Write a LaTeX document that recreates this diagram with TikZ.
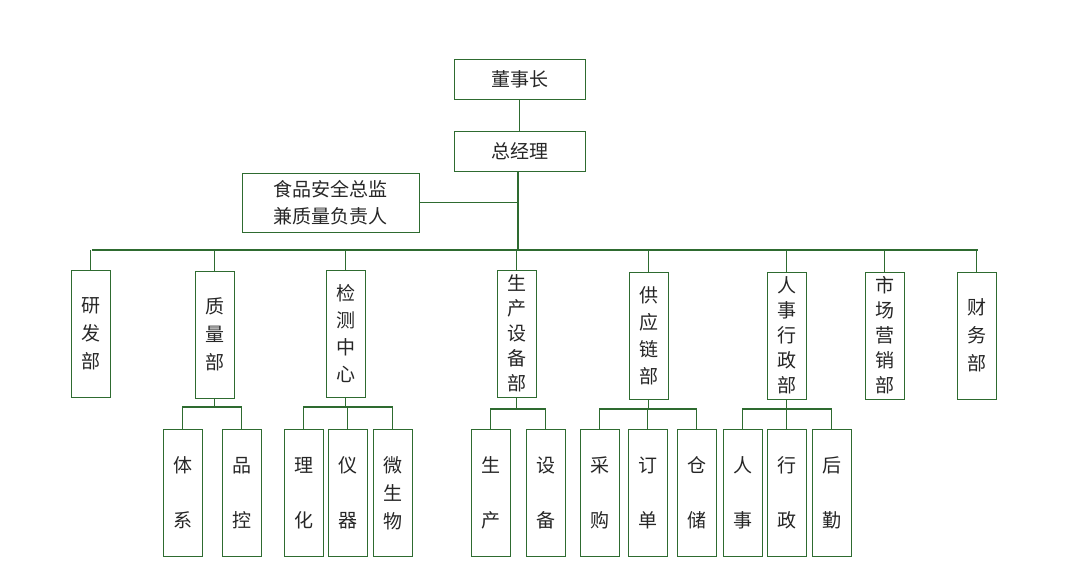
\documentclass[tikz,border=0pt]{standalone}
\usepackage{fontspec}
\newfontfamily\cjk{Noto Sans CJK SC}
\definecolor{gr}{HTML}{2E6B30}
\begin{document}
\begin{tikzpicture}[x=1pt,y=-1pt,
  conn/.style={draw=gr,line width=1.6pt},
  bx/.style={draw=gr,line width=0.9pt,inner sep=0pt,align=center,font=\cjk\fontsize{19}{28}\selectfont,text=black!85},
  dep/.style={bx,minimum width=39pt,minimum height=127pt},
  sub/.style={bx,minimum width=39pt,minimum height=127pt,font=\cjk\fontsize{19}{55}\selectfont}]
\useasboundingbox (0,0) rectangle (1066,588);
\node[bx,minimum width=131pt,minimum height=40pt] (dsz) at (519.5,79) {董事长};
\node[bx,minimum width=131pt,minimum height=40pt] (zjl) at (519.5,151) {总经理};
\node[bx,minimum width=177pt,minimum height=59pt,font=\cjk\fontsize{19}{27}\selectfont] (spaq) at (330.5,202.5) {食品安全总监\\兼质量负责人};
\coordinate (bus) at (518,250);
\draw[conn] (dsz) -- (zjl);
\draw[conn] (zjl.south -| bus) -- (bus);
\draw[conn] (spaq.east) -- (spaq.east -| bus);
\draw[conn] (92,250) -- (978,250);
\foreach \n/\x/\y/\t/\ls in {yf/90.5/333.5/研\\发\\部/28, zl/214.5/334.5/质\\量\\部/28, jc/345.5/333.5/检\\测\\中\\心/27, sc/516.5/333.5/生\\产\\设\\备\\部/25, gy/648.5/335.5/供\\应\\链\\部/27, rs/786.5/335.5/人\\事\\行\\政\\部/25, yx/884.5/335.5/市\\场\\营\\销\\部/25, cw/976.5/335.5/财\\务\\部/28}{
  \node[dep,font=\cjk\fontsize{19}{\ls}\selectfont] (\n) at (\x,\y) {\t};
  \draw[conn] (\n.north) -- (\n.north |- bus);
}
\foreach \p/\n/\x/\t/\by/\ls in {
  zl/tx/182.5/体\\系/407/55, zl/pk/241.5/品\\控/407/55,
  jc/lh/303.5/理\\化/407/55, jc/yq/347.5/仪\\器/407/55, jc/ws/392.5/微\\生\\物/407/28,
  sc/scx/490.5/生\\产/409/55, sc/sb/545.5/设\\备/409/55,
  gy/cg/599.5/采\\购/409/55, gy/dd/647.5/订\\单/409/55, gy/cc/696.5/仓\\储/409/55,
  rs/rsx/742.5/人\\事/409/55, rs/xz/786.5/行\\政/409/55, rs/hq/831.5/后\\勤/409/55}{
  \node[sub,font=\cjk\fontsize{19}{\ls}\selectfont] (\n) at (\x,493) {\t};
  \draw[conn] (\n.north) -- (\n.north |- 0,\by) -- (\p.south |- 0,\by);
  \draw[conn] (\p.south) -- (\p.south |- 0,\by);
}
\end{tikzpicture}
\end{document}
